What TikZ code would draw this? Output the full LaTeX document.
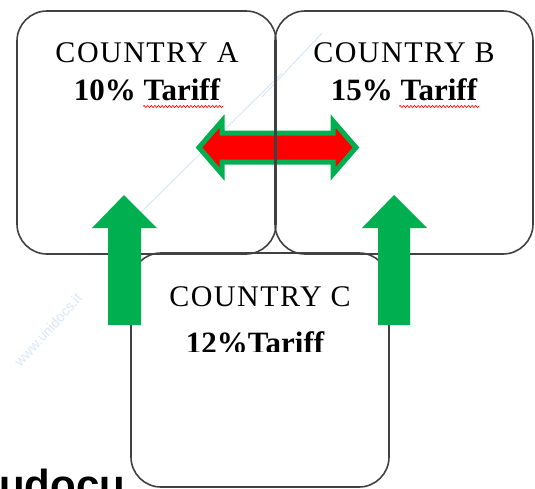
\documentclass[tikz,border=0pt]{standalone}
\usepackage{fontspec}
\setmainfont{Liberation Serif}
\newfontfamily\wmfont{Liberation Sans}
\usetikzlibrary{decorations.pathmorphing}
\definecolor{boxline}{RGB}{65,65,65}
\definecolor{officegreen}{RGB}{0,176,80}
\definecolor{wmblue}{RGB}{218,230,246}
\tikzset{
  countrybox/.style={draw=boxline, line width=1.6pt, rounded corners=30pt, inner sep=0pt},
  titletext/.style={anchor=base, inner sep=0pt, font=\fontsize{30}{30}\selectfont\addfontfeature{LetterSpace=5}},
  tarifftext/.style={anchor=base, inner sep=0pt, font=\fontsize{31}{31}\selectfont\bfseries},
  squiggle/.style={red, line width=0.6pt, decorate, decoration={snake, amplitude=1.1pt, segment length=3.6pt}},
  uparrow/.style={fill=officegreen, draw=none},
  dblarrow/.style={fill=red, draw=officegreen, line width=5pt, line join=miter},
}
\begin{document}
\begin{tikzpicture}[x=1pt, y=-1pt]
\useasboundingbox (0,0) rectangle (535,488);
% faint watermark
\draw[wmblue, line width=1pt] (115,238) -- (282,73);
\draw[wmblue, line width=1pt] (262,97) -- (322,33);
\node[wmblue, rotate=48, inner sep=0pt, font=\wmfont\fontsize{14}{14}\selectfont] (wm) at (48,330) {www.unidocs.it};
% double arrow (behind the box lines)
\draw[dblarrow] (199,147.5) -- (222,121) -- (222,133) -- (333,133) -- (333,121) -- (356,147.5)
  -- (333,174) -- (333,162) -- (222,162) -- (222,174) -- cycle;
% boxes
\node[countrybox, minimum width=259pt, minimum height=243pt] (A) at (146.5,132.5) {};
\node[countrybox, minimum width=258pt, minimum height=243pt] (B) at (404,132.5) {};
\node[countrybox, minimum width=258pt, minimum height=234pt] (C) at (260,370) {};
% texts
\node[titletext] (At) at (147,62) {COUNTRY A};
\node[tarifftext] (Ar) at (147,100) {10\% Tariff};
\draw[squiggle] (143,106.5) -- (223,106.5);
\node[titletext] (Bt) at (404,62) {COUNTRY B};
\node[tarifftext] (Br) at (404,100) {15\% Tariff};
\draw[squiggle] (399,106.5) -- (479,106.5);
\node[titletext] (Ct) at (260,306) {COUNTRY C};
\begin{scope}
\clip (150,320) rectangle (360,351);
\node[tarifftext] (Cr) at (255,353) {12\%Tariff};
\end{scope}
% up arrows
\fill[uparrow] (124,195) -- (157,228) -- (141,228) -- (141,325) -- (108,325) -- (108,228) -- (92,228) -- cycle;
\fill[uparrow] (394,195) -- (427,228) -- (410,228) -- (410,325) -- (378,325) -- (378,228) -- (362,228) -- cycle;
% watermark brand fragment
\node[anchor=base west, inner sep=0pt, font=\wmfont\bfseries\fontsize{42}{42}\selectfont] (brand) at (-1,499) {udocu};
\end{tikzpicture}
\end{document}
